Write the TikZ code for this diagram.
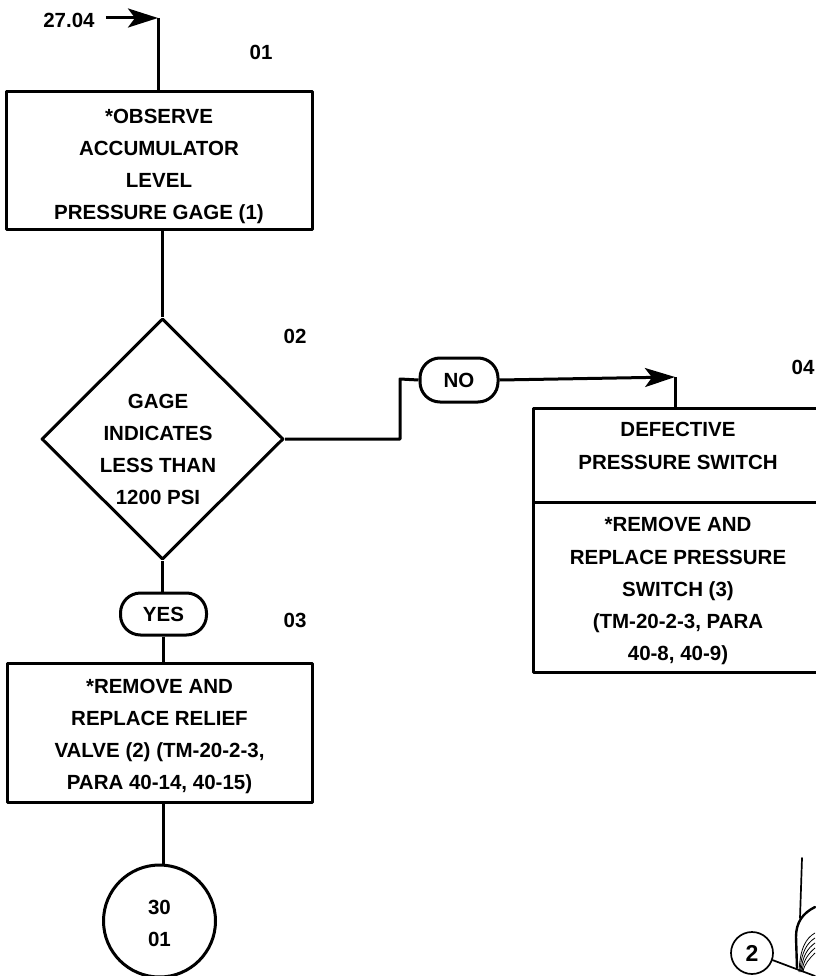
\documentclass[tikz,border=0pt]{standalone}
\usepackage{fontspec}
\setmainfont{Liberation Sans}
\usetikzlibrary{arrows.meta,shapes.geometric}
\newcommand{\drop}[1]{\rule{0pt}{#1}}
\tikzset{
    flowline/.style={line width=3pt, line join=round},
    flowarrow/.style={flowline, -{Stealth[length=30pt, width=19pt, inset=7pt]}},
    flowtext/.style={align=center, font=\bfseries\fontsize{20.5}{32.2}\selectfont, inner sep=0pt},
    flowbox/.style={flowtext, draw, flowline, rectangle},
    flowgate/.style={flowtext, draw, flowline, diamond, aspect=1, inner sep=-12pt, minimum width=242pt, minimum height=241pt, execute at end node={\kern9pt}},
    flowpill/.style={flowtext, draw, flowline, rectangle, rounded corners=20pt},
    flowlabel/.style={flowtext},
    sketch/.style={line width=1.7pt, line cap=round},
}

\begin{document}
\begin{tikzpicture}[x=1pt, y=-1pt]

    \useasboundingbox (0,0) rectangle (815,976);

    % left column
    \node[flowlabel] (entry) at (69,20) {27.04};
    \node[flowlabel] (stepa) at (261,52) {01};
    \node[flowbox, minimum width=306pt, minimum height=138pt] (observe) at (159,161)
        {\drop{25pt}*OBSERVE\\ACCUMULATOR\\LEVEL\\PRESSURE GAGE (1)};
    \node[flowlabel] (stepb) at (295,336) {02};
    \node[flowgate] (gage) at (162.5,439) {\drop{35pt}GAGE\\INDICATES\\LESS THAN\\1200 PSI};
    \node[flowpill, minimum width=86pt, minimum height=42pt] (yes) at (163.5,614) {YES};
    \node[flowlabel] (stepc) at (295,620) {03};
    \node[flowbox, minimum width=305pt, minimum height=139pt] (relief) at (159.5,732.5)
        {\drop{22pt}*REMOVE AND\\REPLACE RELIEF\\VALVE (2) (TM-20-2-3,\\PARA 40-14, 40-15)};
    \node[flowtext, draw, flowline, circle, minimum size=112pt] (exit) at (159.5,921) {\drop{19pt}30\\01};

    % right column
    \node[flowpill, minimum width=78pt, minimum height=44pt] (no) at (459,380) {NO};
    \node[flowlabel] (stepd) at (803,367) {04};
    \node[flowbox, minimum width=290pt, minimum height=94pt] (defect) at (678,455)
        {DEFECTIVE\\PRESSURE SWITCH\\[-14pt]~};
    \node[flowbox, minimum width=290pt, minimum height=170pt] (swap) at (678,587)
        {\drop{23pt}*REMOVE AND\\REPLACE PRESSURE\\SWITCH (3)\\(TM-20-2-3, PARA\\40-8, 40-9)};

    \coordinate (entrycorner) at (158,18);
    \coordinate (nobend) at (400,379);
    \coordinate (nocorner) at (675,377);

    \draw[flowarrow] (entry.east) ++(11,-2) -- (entrycorner);
    \draw[flowline] (entrycorner) -- (entrycorner |- observe.north);
    \draw[flowline] (observe.south -| gage.north) -- (gage.north);
    \draw[flowline] (gage.south) -- (gage.south |- yes.north);
    \draw[flowline] (yes.south) -- (yes.south |- relief.north);
    \draw[flowline] (relief.south -| yes.south) -- (exit.north -| yes.south);
    \draw[flowline] (gage.east) -| (nobend) -- (no.west);
    \draw[flowarrow] (no.east) -- (nocorner);
    \draw[flowline] (nocorner) -- (nocorner |- defect.north);

    % part of the drawing, bottom right
    \node[draw, circle, sketch, minimum size=42pt, inner sep=0pt, font=\bfseries\fontsize{23}{23}\selectfont] (calla) at (752,953) {2};
    \coordinate (callb) at (815,976);
    \draw[sketch] (calla.-19) -- (callb);
    \draw[sketch] (802,858) -- (800,918);
    \draw[sketch, line width=2.4pt] (815,907) .. controls (803,913) and (796,922) .. (796,937) -- (797,968);
    \foreach \i in {0,...,4} {
        \draw[line width=0.8pt] (815,{933+\i*5}) .. controls ({806+\i},{938+\i*5}) and ({800+\i},{948+\i*4}) .. ({799+\i},972);
    }
\end{tikzpicture}
\end{document}
